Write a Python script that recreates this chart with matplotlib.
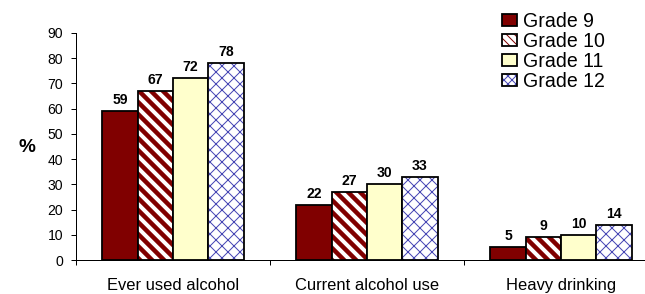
import numpy as np
import matplotlib
matplotlib.use("Agg")
import matplotlib.pyplot as plt
from matplotlib.patches import Patch
from matplotlib.legend_handler import HandlerTuple

plt.rcParams['font.family'] = ['Liberation Sans', 'DejaVu Sans']

# data
categories = ["Ever used alcohol", "Current alcohol use", "Heavy drinking"]
grades = ["Grade 9", "Grade 10", "Grade 11", "Grade 12"]
grade9 = [59, 22, 5]
grade10 = [67, 27, 9]
grade11 = [72, 30, 10]
grade12 = [78, 33, 14]
series = [grade9, grade10, grade11, grade12]

# styles: face, hatch, hatch colour, hatch width
faces = ["#800000", "white", "#ffffcc", "white"]
hatches = [None, "\\\\", None, "xx"]
hatch_cols = ["#800000", "#800000", "#ffffcc", "#4646b4"]
hatch_lw = [1, 4.5, 1, 1]

fig = plt.figure(figsize=(645 / 72, 294 / 72), dpi=72)
ax = fig.add_axes([76 / 645, 34 / 294, 582 / 645, 227 / 294])

x = np.arange(len(categories))
w = 0.182
handles = []
for i, vals in enumerate(series):
    pos = x + (i - 1.5) * w
    with plt.rc_context({'hatch.linewidth': hatch_lw[i]}):
        inner = ax.bar(pos, vals, w, color=faces[i], hatch=hatches[i],
                       edgecolor=hatch_cols[i], linewidth=0)
    for p in inner:
        if hasattr(p, "set_hatch_linewidth"):
            p.set_hatch_linewidth(hatch_lw[i])
    outer = ax.bar(pos, vals, w, fill=False, edgecolor="black", linewidth=1.8)
    ax.bar_label(outer, labels=[str(v) for v in vals], padding=4,
                 fontsize=14, fontweight="bold")
    # legend swatch: hatched fill with black outline on top
    lh = "\\\\\\" if i == 1 else ("xxx" if i == 3 else None)
    h1 = Patch(facecolor=faces[i], hatch=lh, edgecolor=hatch_cols[i], linewidth=0)
    if hasattr(h1, "set_hatch_linewidth"):
        h1.set_hatch_linewidth(2.5 if i == 1 else 1)
    h2 = Patch(fill=False, edgecolor="black", linewidth=1.8)
    handles.append((h1, h2))

ax.set_xlim(-0.5, 2.5)
ax.set_ylim(0, 90)
ax.set_yticks(np.arange(0, 91, 10))
ax.set_xticks(x)
ax.set_xticklabels(categories, fontsize=16.5)
ax.set_xticks([-0.5, 0.5, 1.5, 2.5], minor=True)
ax.tick_params(axis='x', which='major', length=0, pad=18)
ax.tick_params(axis='x', which='minor', length=5, direction='out', width=1)
ax.tick_params(axis='y', labelsize=14, length=5, width=1, pad=8)
for s in ["top", "right"]:
    ax.spines[s].set_visible(False)
for s in ["left", "bottom"]:
    ax.spines[s].set_linewidth(1)

fig.text(27 / 645, 1 - 147 / 294, "%", fontsize=19, fontweight="bold",
         ha="center", va="center")

ax.legend(handles, grades, loc="upper left", bbox_to_anchor=(502 / 645, 1 - 12 / 294),
          bbox_transform=fig.transFigure, frameon=False, fontsize=19.5,
          borderpad=0, borderaxespad=0, labelspacing=0.05, handlelength=0.75,
          handleheight=0.6, handletextpad=0.35,
          handler_map={tuple: HandlerTuple(ndivide=1)})

fig.savefig("out.png", dpi=72)
